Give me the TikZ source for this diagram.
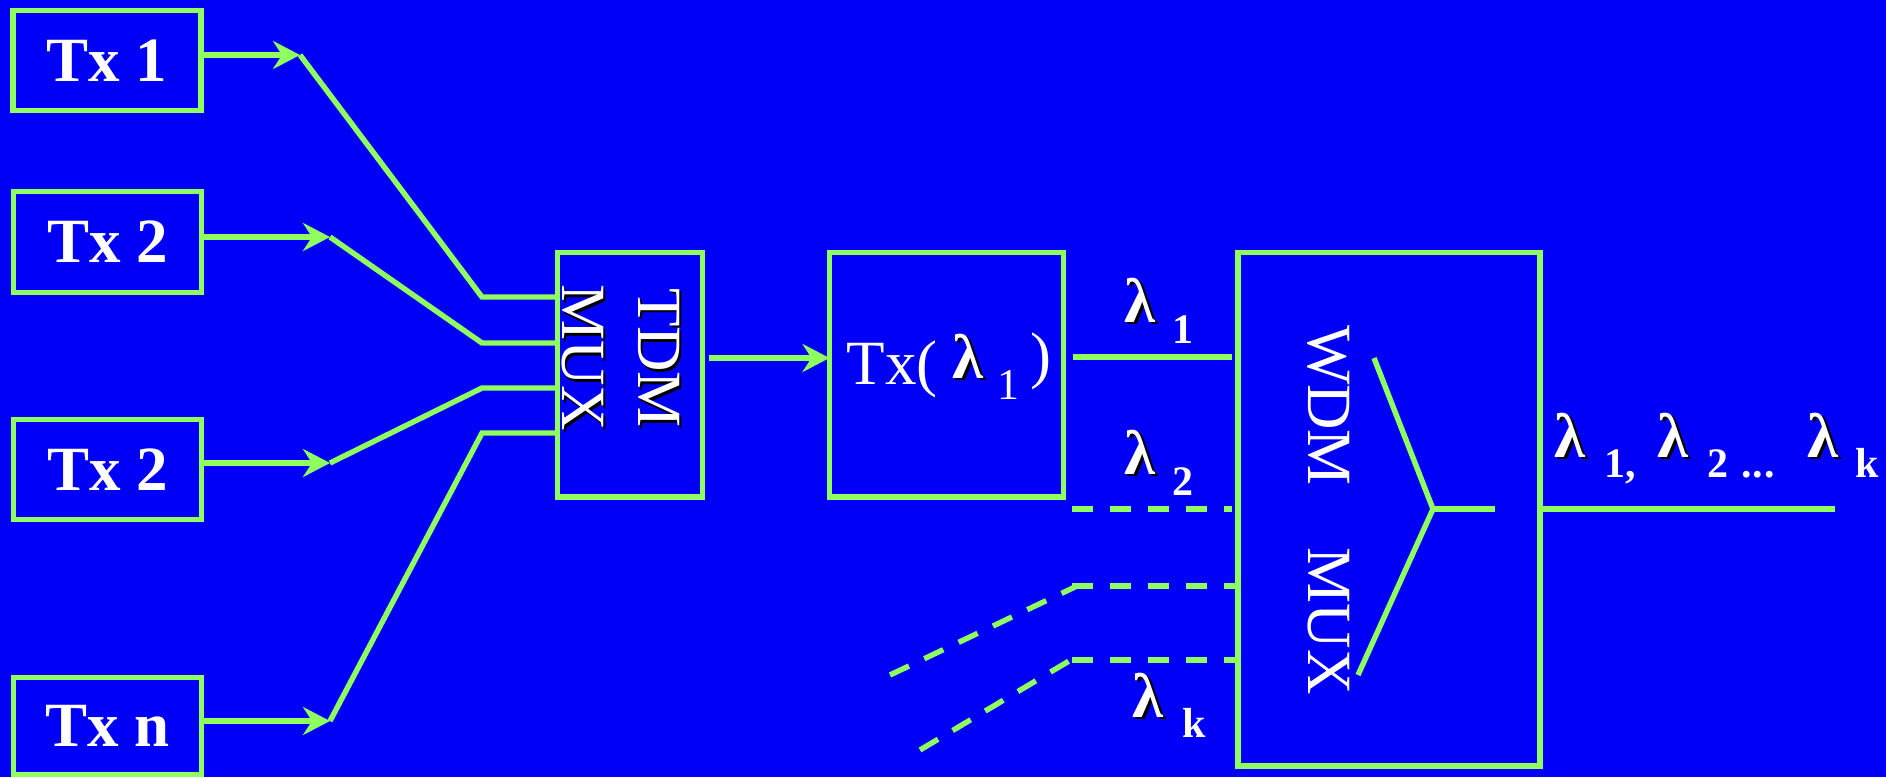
\documentclass[tikz,border=0pt]{standalone}
\usepackage{fontspec}
\setmainfont{Liberation Serif}
\usetikzlibrary{arrows.meta}
\definecolor{bgblue}{RGB}{0,0,248}
\definecolor{lgreen}{RGB}{142,255,94}
% type sizes: main text and lowered indices
\newcommand\bigf{\fontsize{63}{76}\selectfont}
\newcommand\subf{\fontsize{42}{50}\selectfont\bfseries}
% text with a black drop shadow: #1 = shift along the line, #2 = raise
\newcommand\shd[3]{\makebox[0pt][l]{\kern#1\raisebox{#2}{\color{black}#3}}#3}
\newcommand\lam{\shd{2.5pt}{-2.5pt}{\bfseries λ}}
% place a piece at a fixed offset from the start of a label
\newcommand\at[2]{\rlap{\kern#1pt\relax#2}}
\begin{document}
\begin{tikzpicture}[x=1pt,y=-1pt,
  box/.style={draw=lgreen,line width=5.4pt,outer sep=0pt,inner sep=0pt,text=white},
  ln/.style={draw=lgreen,line width=5.4pt},
  arr/.style={ln,-{Stealth[length=27pt,width=28pt,inset=9pt]}},
  dsh/.style={ln,dash pattern=on 21pt off 17pt},
  lbl/.style={text=white,inner sep=0pt,anchor=base west,font=\bigf},
  txbox/.style={box,minimum width=188pt,font=\bigf\bfseries},
]
% background
\fill[bgblue] (0,0) rectangle (1886,777);
\useasboundingbox (0,0) rectangle (1886,777);

% transmitters
\node[txbox,minimum height=100pt] (tx1) at (107,60.5) {Tx 1};
\node[txbox,minimum height=101pt] (tx2) at (107.5,242) {Tx 2};
\node[txbox,minimum height=100pt] (tx3) at (107.5,469.5) {Tx 2};
\node[txbox,minimum height=97pt] (tx4) at (107.5,726) {Tx n};

% TDM multiplexer
\node[box,minimum width=145pt,minimum height=244.5pt] (tdm) at (630,374.75) {};
\node[text=white,rotate=-90,align=center,font=\bigf,inner sep=0pt] (tdmt) at (622,358)
  {\shd{2.5pt}{2.5pt}{TDM}\\\shd{2.5pt}{2.5pt}{MUX}};

% optical transmitter
\node[box,minimum width=234pt,minimum height=244.5pt] (txl) at (946.5,374.75) {};
\node[lbl] (txlt) at (846,384)
  {\at{0}{Tx(}\at{106}{\raisebox{6pt}{\lam}}\at{151}{\raisebox{-15pt}{\fontsize{44}{50}\selectfont 1}}\at{184}{\raisebox{8pt}{)}}};

% WDM multiplexer
\node[box,minimum width=302pt,minimum height=513.5pt] (wdm) at (1389,509.25) {};
\node[text=white,rotate=-90,font=\bigf,inner sep=0pt] (wdmt) at (1329,510) {WDM\hspace{62pt}MUX};

% wavelength labels
\node[lbl] (l1) at (1124,322) {\at{0}{\lam}\at{48}{\raisebox{-21pt}{\subf 1}}};
\node[lbl] (l2) at (1124,474) {\at{0}{\lam}\at{48}{\raisebox{-21pt}{\subf 2}}};
\node[lbl] (lk) at (1132,717) {\at{0}{\lam}\at{50}{\raisebox{-20pt}{\subf k}}};
\node[lbl] (lall) at (1554,457) {\at{0}{\lam}\at{50}{\raisebox{-20pt}{\subf 1,}}%
  \at{103}{\lam}\at{153}{\raisebox{-20pt}{\subf 2 \kern2pt.\kern1pt.\kern1pt.}}%
  \at{253}{\lam}\at{301}{\raisebox{-20pt}{\subf k}}};

% junction points of the TDM inputs
\coordinate (j1) at (300,55);
\coordinate (j2) at (330,237);
\coordinate (j3) at (330,463);
\coordinate (j4) at (330,721);
\coordinate (k1) at (482,297);
\coordinate (k2) at (482,343);
\coordinate (k3) at (482,388);
\coordinate (k4) at (482,433);

\draw[arr] (tx1.east |- j1) -- (j1);
\draw[arr] (tx2.east |- j2) -- (j2);
\draw[arr] (tx3.east |- j3) -- (j3);
\draw[arr] (tx4.east |- j4) -- (j4);
\draw[ln] (j1) -- (k1) -- (k1 -| tdm.west);
\draw[ln] (j2) -- (k2) -- (k2 -| tdm.west);
\draw[ln] (j3) -- (k3) -- (k3 -| tdm.west);
\draw[ln] (j4) -- (k4) -- (k4 -| tdm.west);

% TDM -> optical transmitter -> WDM
\draw[arr] ([xshift=6pt,yshift=16.75pt]tdm.east) -- ([yshift=16.75pt]txl.west);
\coordinate (w1) at (1232,357);
\draw[ln] ([xshift=9pt,yshift=17.75pt]txl.east) -- (w1);

% further wavelengths (dashed)
\coordinate (s2) at (1072,509);
\coordinate (s3) at (1072,586);
\coordinate (s4) at (1072,660);
\draw[dsh] (s2) -- ([xshift=-6pt]s2 -| wdm.west);
\draw[dsh] (s3) -- (s3 -| wdm.west);
\draw[dsh] (s4) -- ([xshift=2pt]s4 -| wdm.west);
\coordinate (f3) at (890,675);
\coordinate (g3) at (1077,586);
\coordinate (f4) at (920,750);
\coordinate (g4) at (1069,661);
\draw[dsh] (f3) -- (g3);
\draw[dsh] (f4) -- (g4);

% combiner symbol inside the WDM box
\coordinate (c1) at (1374,358);
\coordinate (c2) at (1433,509);
\coordinate (c3) at (1358,675);
\coordinate (c4) at (1495,509);
\draw[ln] (c1) -- (c2) -- (c3);
\draw[ln] (c2) -- (c4);

% multiplexed output
\coordinate (out) at (1835,509);
\draw[ln] (wdm.east |- out) -- (out);
\end{tikzpicture}
\end{document}
